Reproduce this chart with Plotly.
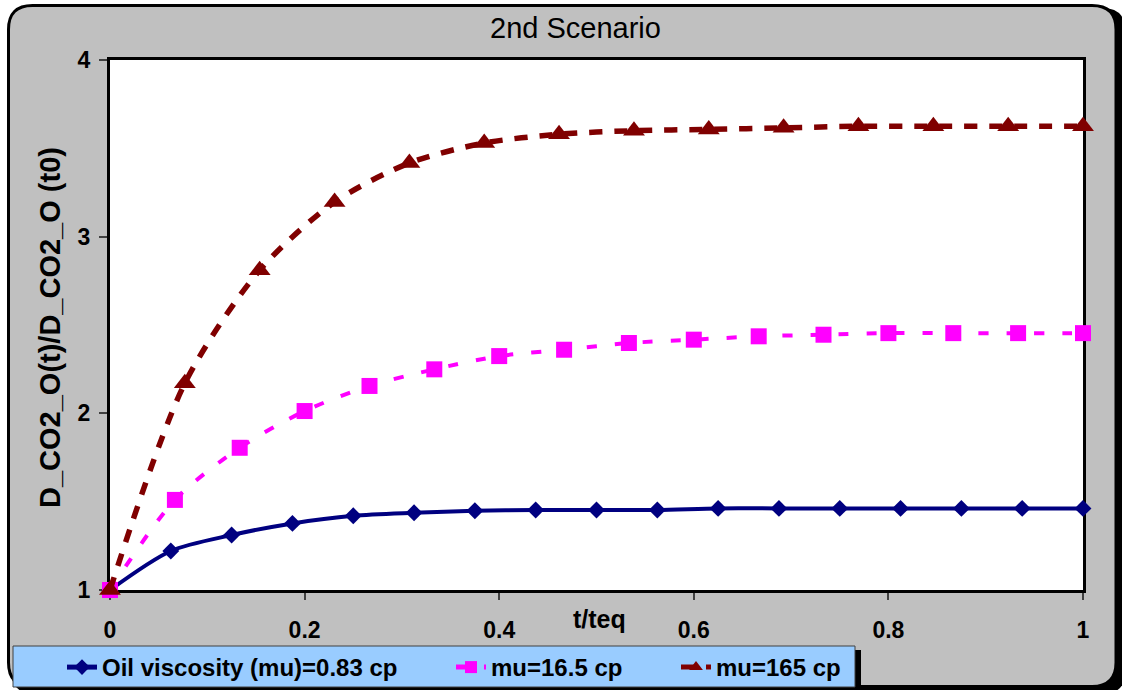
import plotly.graph_objects as go

# ---- data -------------------------------------------------------------
t_low = [0.0, 0.0625, 0.125, 0.1875, 0.25, 0.3125, 0.375, 0.4375, 0.5,
         0.5625, 0.625, 0.6875, 0.75, 0.8125, 0.875, 0.9375, 1.0]
d_low = [1.0, 1.221, 1.311, 1.377, 1.42, 1.437, 1.449, 1.453, 1.453,
         1.453, 1.462, 1.462, 1.462, 1.462, 1.462, 1.462, 1.462]

t_mid = [0.0, 0.0667, 0.1333, 0.2, 0.2667, 0.3333, 0.4, 0.4667, 0.5333,
         0.6, 0.6667, 0.7333, 0.8, 0.8667, 0.9333, 1.0]
d_mid = [1.0, 1.51, 1.805, 2.013, 2.155, 2.249, 2.324, 2.36, 2.398,
         2.417, 2.436, 2.445, 2.454, 2.454, 2.454, 2.454]

t_high = [0.0, 0.0769, 0.1538, 0.2308, 0.3077, 0.3846, 0.4615, 0.5385,
          0.6154, 0.6923, 0.7692, 0.8462, 0.9231, 1.0]
d_high = [1.0, 2.17, 2.81, 3.196, 3.417, 3.53, 3.58, 3.60, 3.607, 3.616,
          3.625, 3.625, 3.625, 3.625]

series_names = ["Oil viscosity (mu)=0.83 cp", "mu=16.5 cp", "mu=165 cp"]
x_ticks = [0, 0.2, 0.4, 0.6, 0.8, 1]
x_tick_text = ["0", "0.2", "0.4", "0.6", "0.8", "1"]
y_ticks = [1, 2, 3, 4]
y_tick_text = ["1", "2", "3", "4"]

# ---- page geometry ----------------------------------------------------
W, H = 1122, 690
L, R, T, B = 110, 39, 60, 100
PW, PH = W - L - R, H - T - B

FONT = "Liberation Sans, Arial, sans-serif"


def to_paper(x, y):
    return (x - L) / PW, (H - B - y) / PH


def rounded_rect(x0, y0, x1, y1, r):
    pts = [("M", x0 + r, y0), ("L", x1 - r, y0), ("Q", x1, y0, x1, y0 + r),
           ("L", x1, y1 - r), ("Q", x1, y1, x1 - r, y1), ("L", x0 + r, y1),
           ("Q", x0, y1, x0, y1 - r), ("L", x0, y0 + r), ("Q", x0, y0, x0 + r, y0)]
    out = []
    for p in pts:
        cmd, coords = p[0], p[1:]
        conv = []
        for i in range(0, len(coords), 2):
            fx, fy = to_paper(coords[i], coords[i + 1])
            conv.append(f"{fx:.5f},{fy:.5f}")
        out.append(cmd + " ".join(conv))
    return " ".join(out) + " Z"


def rect(x0, y0, x1, y1, **kw):
    ax, ay = to_paper(x0, y1)
    bx, by = to_paper(x1, y0)
    return dict(type="rect", xref="paper", yref="paper", x0=ax, y0=ay,
                x1=bx, y1=by, layer="below", **kw)


fig = go.Figure()

fig.add_trace(go.Scatter(
    x=t_low, y=d_low, name=series_names[0], mode="lines+markers",
    line=dict(color="#000080", width=4, shape="spline", smoothing=0.8),
    marker=dict(symbol="diamond", size=13, color="#000080"),
    cliponaxis=False, legendwidth=344))

fig.add_trace(go.Scatter(
    x=t_mid, y=d_mid, name=series_names[1], mode="lines+markers",
    line=dict(color="#FF00FF", width=4, dash="10px,18px", shape="spline", smoothing=0.8),
    marker=dict(symbol="square", size=16, color="#FF00FF"),
    cliponaxis=False, legendwidth=180))

fig.add_trace(go.Scatter(
    x=t_high, y=d_high, name=series_names[2], mode="lines+markers",
    line=dict(color="#800000", width=5.5, dash="13px,12px", shape="spline", smoothing=0.8),
    marker=dict(symbol="triangle-up", size=19, color="#800000"),
    cliponaxis=False, legendwidth=130))

shapes = [
    # chart frame with its drop shadow
    dict(type="path", xref="paper", yref="paper", layer="below",
         path=rounded_rect(11, 8, 1126, 694, 24), fillcolor="black",
         line=dict(width=0)),
    dict(type="path", xref="paper", yref="paper", layer="below",
         path=rounded_rect(8.5, 5.5, 1116, 686.5, 24), fillcolor="#C0C0C0",
         line=dict(color="black", width=3)),
    # plot area background
    rect(L, T, W - R, H - B, fillcolor="white", line=dict(width=0)),
    # legend box with shadow
    rect(855, 650, 861, 687, fillcolor="black", line=dict(width=0)),
    rect(13, 646, 855, 687, fillcolor="#99CCFF", line=dict(color="#404040", width=1)),
]

lx, ly = to_paper(62, 645)

fig.update_layout(
    width=W, height=H,
    margin=dict(l=L, r=R, t=T, b=B, pad=0, autoexpand=False),
    paper_bgcolor="white", plot_bgcolor="white",
    font=dict(family=FONT, color="black"),
    showlegend=True,
    legend=dict(orientation="h", x=lx, y=ly, xanchor="left", yanchor="top",
                bgcolor="rgba(0,0,0,0)", borderwidth=0,
                font=dict(family=FONT, size=24, weight="bold", color="black"),
                itemsizing="constant", tracegroupgap=0),
    shapes=shapes,
    annotations=[
        dict(text="2nd Scenario", xref="paper", yref="paper",
             x=to_paper(575, 28)[0], y=to_paper(575, 28)[1],
             showarrow=False, font=dict(family=FONT, size=29, color="black"),
             xanchor="center", yanchor="middle"),
        dict(text="t/teq", xref="paper", yref="paper",
             x=to_paper(599, 619)[0], y=to_paper(599, 619)[1],
             showarrow=False, font=dict(family=FONT, size=25, weight="bold", color="black"),
             xanchor="center", yanchor="middle"),
        dict(text="D_CO2_O(t)/D_CO2_O (t0)", xref="paper", yref="paper",
             x=to_paper(50, 328)[0], y=to_paper(50, 328)[1], textangle=-90,
             showarrow=False, font=dict(family=FONT, size=29, weight="bold", color="black"),
             xanchor="center", yanchor="middle"),
    ],
)

fig.update_xaxes(
    range=[0, 1], tickvals=x_ticks, ticktext=x_tick_text,
    showgrid=False, zeroline=False,
    showline=True, linecolor="black", linewidth=3, mirror=True,
    ticks="outside", ticklen=7, tickwidth=1.5, tickcolor="#404040",
    ticklabelstandoff=10,
    tickfont=dict(family=FONT, size=23, weight="bold", color="black"),
    layer="below traces")

fig.update_yaxes(
    range=[1, 4], tickvals=y_ticks, ticktext=y_tick_text,
    showgrid=False, zeroline=False,
    showline=True, linecolor="black", linewidth=3, mirror=True,
    ticks="outside", ticklen=8, tickwidth=1.5, tickcolor="#404040",
    ticklabelstandoff=4,
    tickfont=dict(family=FONT, size=23, weight="bold", color="black"),
    layer="below traces")

fig.write_html("out.html")
